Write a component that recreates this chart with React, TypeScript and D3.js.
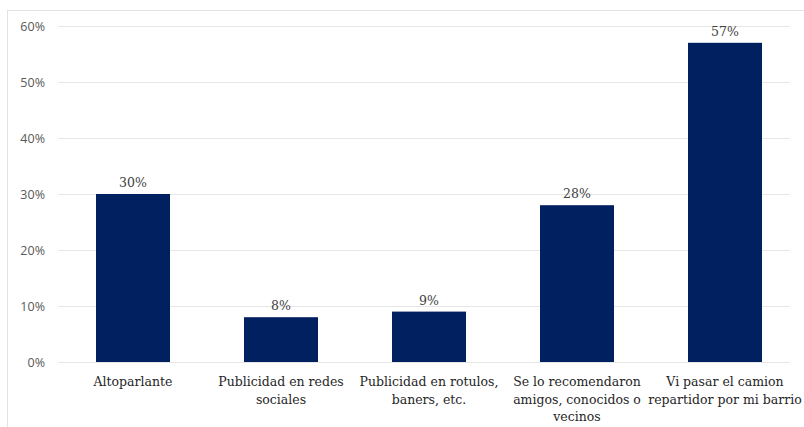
import React, { useEffect, useRef } from "react";
import * as d3 from "d3";

const categories: string[][] = [
  ["Altoparlante"],
  ["Publicidad en redes", "sociales"],
  ["Publicidad en rotulos,", "baners, etc."],
  ["Se lo recomendaron", "amigos, conocidos o", "vecinos"],
  ["Vi pasar el camion", "repartidor por mi barrio"],
];
const values: number[] = [30, 8, 9, 28, 57];
const yTicks: number[] = [0, 10, 20, 30, 40, 50, 60];

const SERIF = "'DejaVu Serif', serif";

export default function App() {
  const ref = useRef<SVGSVGElement>(null);
  useEffect(() => {
    const svg = d3.select(ref.current);
    svg.selectAll("*").remove();
    const x0 = 59, x1 = 799, yTop = 26, yBot = 362;
    svg.append("rect").attr("x", 7.5).attr("y", 10.5).attr("width", 800).attr("height", 430)
      .attr("fill", "white").attr("stroke", "#e3e3e3");
    const x = d3.scaleBand<number>().domain(values.map((_, i) => i)).range([x0, x1]).paddingInner(0.5).paddingOuter(0.25);
    const y = d3.scaleLinear().domain([0, 60]).range([yBot, yTop]);
    const g = svg.append("g");
    g.selectAll("line.grid").data(yTicks).join("line")
      .attr("x1", 58).attr("x2", 790)
      .attr("y1", d => Math.round(y(d)) + 0.5).attr("y2", d => Math.round(y(d)) + 0.5)
      .attr("stroke", "#e6e6e6").attr("stroke-width", 1);
    g.selectAll("text.yt").data(yTicks).join("text")
      .attr("x", 45).attr("y", d => y(d) + 4.5).attr("text-anchor", "end")
      .style("font-family", "'Open Sans', 'DejaVu Sans', sans-serif").attr("font-size", 12.5)
      .attr("fill", "#595959").text(d => d + "%");
    g.selectAll("rect.bar").data(values).join("rect")
      .attr("x", (_, i) => x(i)!).attr("width", x.bandwidth())
      .attr("y", d => y(d)).attr("height", d => yBot - y(d))
      .attr("fill", "#002060");
    g.selectAll("text.val").data(values).join("text")
      .attr("x", (_, i) => x(i)! + x.bandwidth() / 2).attr("y", d => y(d) - 7)
      .attr("text-anchor", "middle").style("font-family", SERIF)
      .attr("font-size", 12.5).attr("fill", "#404040").text(d => d + "%");
    const cat = g.selectAll("g.cat").data(categories).join("g")
      .attr("transform", (_, i) => `translate(${x(i)! + x.bandwidth() / 2},0)`);
    cat.each(function (lines) {
      d3.select(this).selectAll("text").data(lines).join("text")
        .attr("x", 0).attr("y", (_, j) => 386 + j * 17.5).attr("text-anchor", "middle")
        .style("font-family", SERIF).attr("font-size", 12.5)
        .attr("fill", "#262626").text(d => d);
    });
  }, []);
  return <svg ref={ref} width={804} height={427} style={{ position: "absolute", left: 0, top: 0 }} />;
}
